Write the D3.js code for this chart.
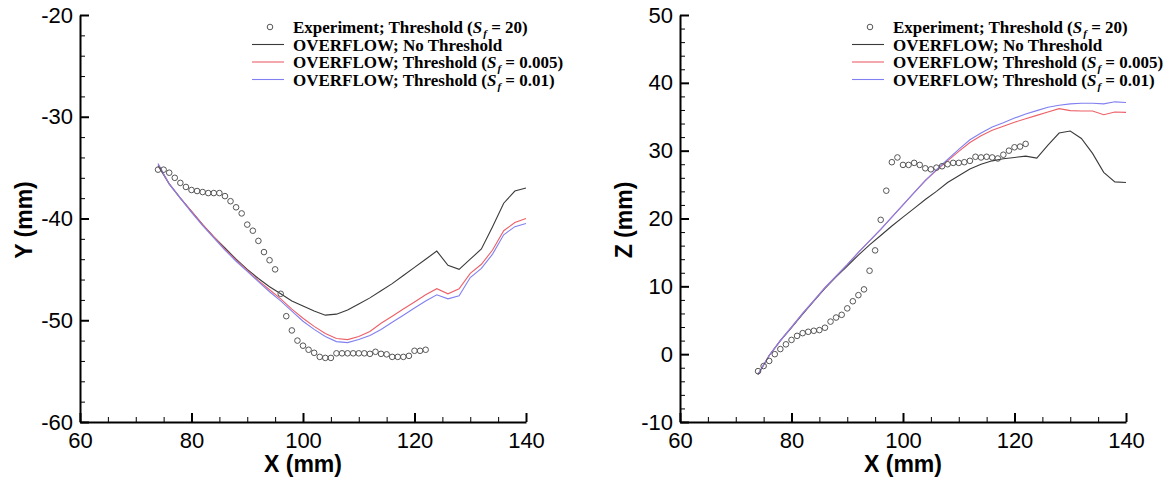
<!DOCTYPE html>
<html>
<head>
<meta charset="utf-8">
<script src="https://cdn.jsdelivr.net/npm/d3@7"></script>
<style>
  body { margin: 0; background: #fff; }
  svg { display: block; }
</style>
</head>
<body>
<div id="chart"></div>
<script>
// experiment points, every 1 mm
const expX = [74,75,76,77,78,79,80,81,82,83,84,85,86,87,88,89,90,91,92,93,94,95,96,97,98,99,100,101,102,103,104,105,106,107,108,109,110,111,112,113,114,115,116,117,118,119,120,121,122];
const expY = [-35.2,-35.2,-35.5,-36.0,-36.5,-36.9,-37.2,-37.3,-37.4,-37.5,
              -37.5,-37.5,-37.8,-38.3,-38.9,-39.5,-40.6,-41.2,-42.2,-43.3,
              -44.1,-45.0,-47.4,-49.6,-51.0,-52.0,-52.5,-52.9,-53.2,-53.6,
              -53.7,-53.7,-53.25,-53.25,-53.25,-53.25,-53.25,-53.25,-53.3,-53.1,
              -53.3,-53.35,-53.6,-53.6,-53.6,-53.5,-53.0,-53.0,-52.9];
const expZ = [-2.5,-1.75,-1.0,0.0,0.75,1.45,2.1,2.7,3.1,3.3,
              3.45,3.55,3.9,4.8,5.4,5.8,6.75,7.8,8.7,9.55,
              12.3,15.3,19.8,24.1,28.3,29.0,27.9,27.9,28.2,27.9,
              27.4,27.25,27.5,27.7,28.0,28.2,28.2,28.3,28.5,29.1,
              29.0,29.1,29.0,28.85,29.4,30.0,30.5,30.6,31.0];

// OVERFLOW curves, every 2 mm
const lineX = [74,76,78,80,82,84,86,88,90,92,94,96,98,100,102,104,106,108,110,112,114,116,118,120,122,124,126,128,130,132,134,136,138,140];
const noThreshY = [-34.8,-36.6,-38.0,-39.3,-40.6,-41.8,-42.9,-44.0,-45.0,-45.9,
                   -46.7,-47.4,-48.1,-48.6,-49.1,-49.5,-49.4,-49.0,-48.4,-47.8,
                   -47.1,-46.4,-45.6,-44.8,-44.0,-43.2,-44.6,-45.0,-44.0,-43.0,
                   -40.8,-38.5,-37.3,-37.0];
const thr005Y = [-34.7,-36.6,-38.0,-39.3,-40.6,-41.8,-43.0,-44.1,-45.1,-46.1,
                 -47.0,-47.9,-48.9,-49.8,-50.6,-51.3,-51.8,-51.9,-51.6,-51.1,
                 -50.3,-49.6,-48.9,-48.2,-47.5,-46.9,-47.4,-46.9,-45.4,-44.5,
                 -43.1,-41.2,-40.4,-40.0];
const thr01Y = [-34.6,-36.6,-38.0,-39.4,-40.7,-41.9,-43.1,-44.2,-45.2,-46.2,
                -47.2,-48.1,-49.1,-50.1,-50.9,-51.6,-52.1,-52.2,-51.9,-51.5,
                -50.9,-50.2,-49.5,-48.8,-48.1,-47.5,-47.9,-47.6,-45.8,-44.9,
                -43.5,-41.6,-40.8,-40.5];
const noThreshZ = [-3.0,-0.2,2.0,3.9,5.9,7.8,9.7,11.4,13.0,14.6,
                   16.1,17.5,18.9,20.2,21.5,22.8,24.0,25.3,26.3,27.3,
                   28.0,28.5,28.8,29.0,29.2,28.9,30.8,32.6,32.9,31.8,
                   29.6,26.8,25.4,25.3];
const thr005Z = [-3.0,-0.2,2.0,4.0,6.0,7.9,9.8,11.5,13.2,15.0,
                 16.7,18.4,20.2,22.0,23.8,25.6,27.1,28.5,29.9,31.2,
                 32.2,33.0,33.6,34.2,34.7,35.2,35.7,36.2,35.9,35.85,
                 35.85,35.3,35.7,35.65];
const thr01Z = [-3.0,-0.2,2.0,4.0,6.0,7.9,9.8,11.5,13.2,15.0,
                16.7,18.4,20.2,22.0,23.8,25.6,27.2,28.7,30.2,31.6,
                32.6,33.5,34.1,34.8,35.4,35.9,36.4,36.7,36.9,37.0,
                37.0,36.9,37.2,37.1];

const xTicks = [60,80,100,120,140];
const yTicksL = [-60,-50,-40,-30,-20];
const yTicksR = [-10,0,10,20,30,40,50];

const legendRows = [
  {pre: 'Experiment; Threshold (', val: ' = 20)', kind: 'circle', color: '#555'},
  {pre: 'OVERFLOW; No Threshold', val: null, kind: 'line', color: '#3a3a3a'},
  {pre: 'OVERFLOW; Threshold (', val: ' = 0.005)', kind: 'line', color: '#ec6068'},
  {pre: 'OVERFLOW; Threshold (', val: ' = 0.01)', kind: 'line', color: '#8080f0'}
];

const svg = d3.select('#chart').append('svg')
  .attr('width', 1173).attr('height', 479);

const sansFont = "'Liberation Sans', Arial, sans-serif";
const serifFont = "'Liberation Serif', 'Times New Roman', serif";
// plain hyphen for negatives, as in the original figure
const fmt = d => String(d);

function drawPanel(opts) {
  let x = d3.scaleLinear().domain([60, 140]).range([opts.left, opts.left + 446]),
      y = d3.scaleLinear().domain(opts.yDomain).range([422, 15]),
      g = svg.append('g');

  // minor ticks first, then major axes on top
  let minorX = d3.range(65, 140, 5).filter(v => v % 20 !== 0);
  g.append('g')
    .attr('transform', 'translate(0,422)')
    .call(d3.axisBottom(x).tickValues(minorX).tickSize(-5).tickSizeOuter(0).tickFormat(''))
    .call(a => a.select('.domain').remove())
    .selectAll('line').attr('stroke', '#000').attr('stroke-width', 1);

  let minorY = d3.range(opts.yDomain[0], opts.yDomain[1], 2).filter(v => v % 10 !== 0);
  g.append('g')
    .attr('transform', `translate(${opts.left},0)`)
    .call(d3.axisLeft(y).tickValues(minorY).tickSize(-5).tickSizeOuter(0).tickFormat(''))
    .call(a => a.select('.domain').remove())
    .selectAll('line').attr('stroke', '#000').attr('stroke-width', 1);

  let xAxis = g.append('g')
    .attr('transform', 'translate(0,422)')
    .call(d3.axisBottom(x).tickValues(xTicks).tickFormat(fmt).tickSize(-9).tickSizeOuter(0).tickPadding(10));
  let yAxis = g.append('g')
    .attr('transform', `translate(${opts.left},0)`)
    .call(d3.axisLeft(y).tickValues(opts.yTicks).tickFormat(fmt).tickSize(-9).tickSizeOuter(0).tickPadding(7));

  [xAxis, yAxis].forEach(a => {
    a.attr('font-family', sansFont).attr('font-size', 22);
    a.select('.domain').attr('stroke-width', 2);
    a.selectAll('.tick line').attr('stroke-width', 2);
    a.selectAll('.tick text').attr('fill', '#000');
  });

  g.append('text')
    .attr('x', opts.left + 223).attr('y', 472)
    .attr('text-anchor', 'middle')
    .style('font-family', sansFont).style('font-weight', 'bold').style('font-size', '23px')
    .text('X (mm)');
  g.append('text')
    .attr('transform', `translate(${opts.left - 48},220) rotate(-90)`)
    .attr('text-anchor', 'middle')
    .style('font-family', sansFont).style('font-weight', 'bold').style('font-size', '23px')
    .text(opts.yLabel);

  let line = d3.line().x(d => x(d[0])).y(d => y(d[1]));
  opts.lines.forEach((vals, i) => {
    g.append('path')
      .datum(lineX.map((v, j) => [v, vals[j]]))
      .attr('d', line)
      .attr('fill', 'none')
      .attr('stroke', legendRows[i + 1].color)
      .attr('stroke-width', 1.1);
  });

  g.append('g').selectAll('circle')
    .data(expX.map((v, j) => [v, opts.exp[j]]))
    .enter().append('circle')
    .attr('cx', d => x(d[0]))
    .attr('cy', d => y(d[1]))
    .attr('r', 2.8)
    .attr('fill', 'none')
    .attr('stroke', '#555')
    .attr('stroke-width', 1);

  // legend
  let lg = g.append('g').attr('transform', `translate(${opts.left + 172},0)`);
  legendRows.forEach((r, i) => {
    let cy = 27 + i * 17.5;
    if (r.kind === 'circle') {
      lg.append('circle').attr('cx', 18).attr('cy', cy).attr('r', 2.8)
        .attr('fill', 'none').attr('stroke', r.color).attr('stroke-width', 1);
    } else {
      lg.append('line').attr('x1', 0).attr('x2', 32).attr('y1', cy).attr('y2', cy)
        .attr('stroke', r.color).attr('stroke-width', 1.1);
    }
    let t = lg.append('text')
      .attr('x', 41).attr('y', cy + 6)
      .style('font-family', serifFont).style('font-weight', 'bold').style('font-size', '17px');
    t.append('tspan').text(r.pre);
    if (r.val) {
      t.append('tspan').style('font-style', 'italic').text('S');
      t.append('tspan').style('font-style', 'italic').style('font-size', '11px')
        .attr('dx', 1).attr('dy', 4).text('f');
      t.append('tspan').attr('dy', -4).text(r.val);
    }
  });
}

drawPanel({left: 80, yDomain: [-60, -20], yTicks: yTicksL, yLabel: 'Y (mm)',
  exp: expY, lines: [noThreshY, thr005Y, thr01Y]});
drawPanel({left: 680, yDomain: [-10, 50], yTicks: yTicksR, yLabel: 'Z (mm)',
  exp: expZ, lines: [noThreshZ, thr005Z, thr01Z]});
</script>
</body>
</html>
